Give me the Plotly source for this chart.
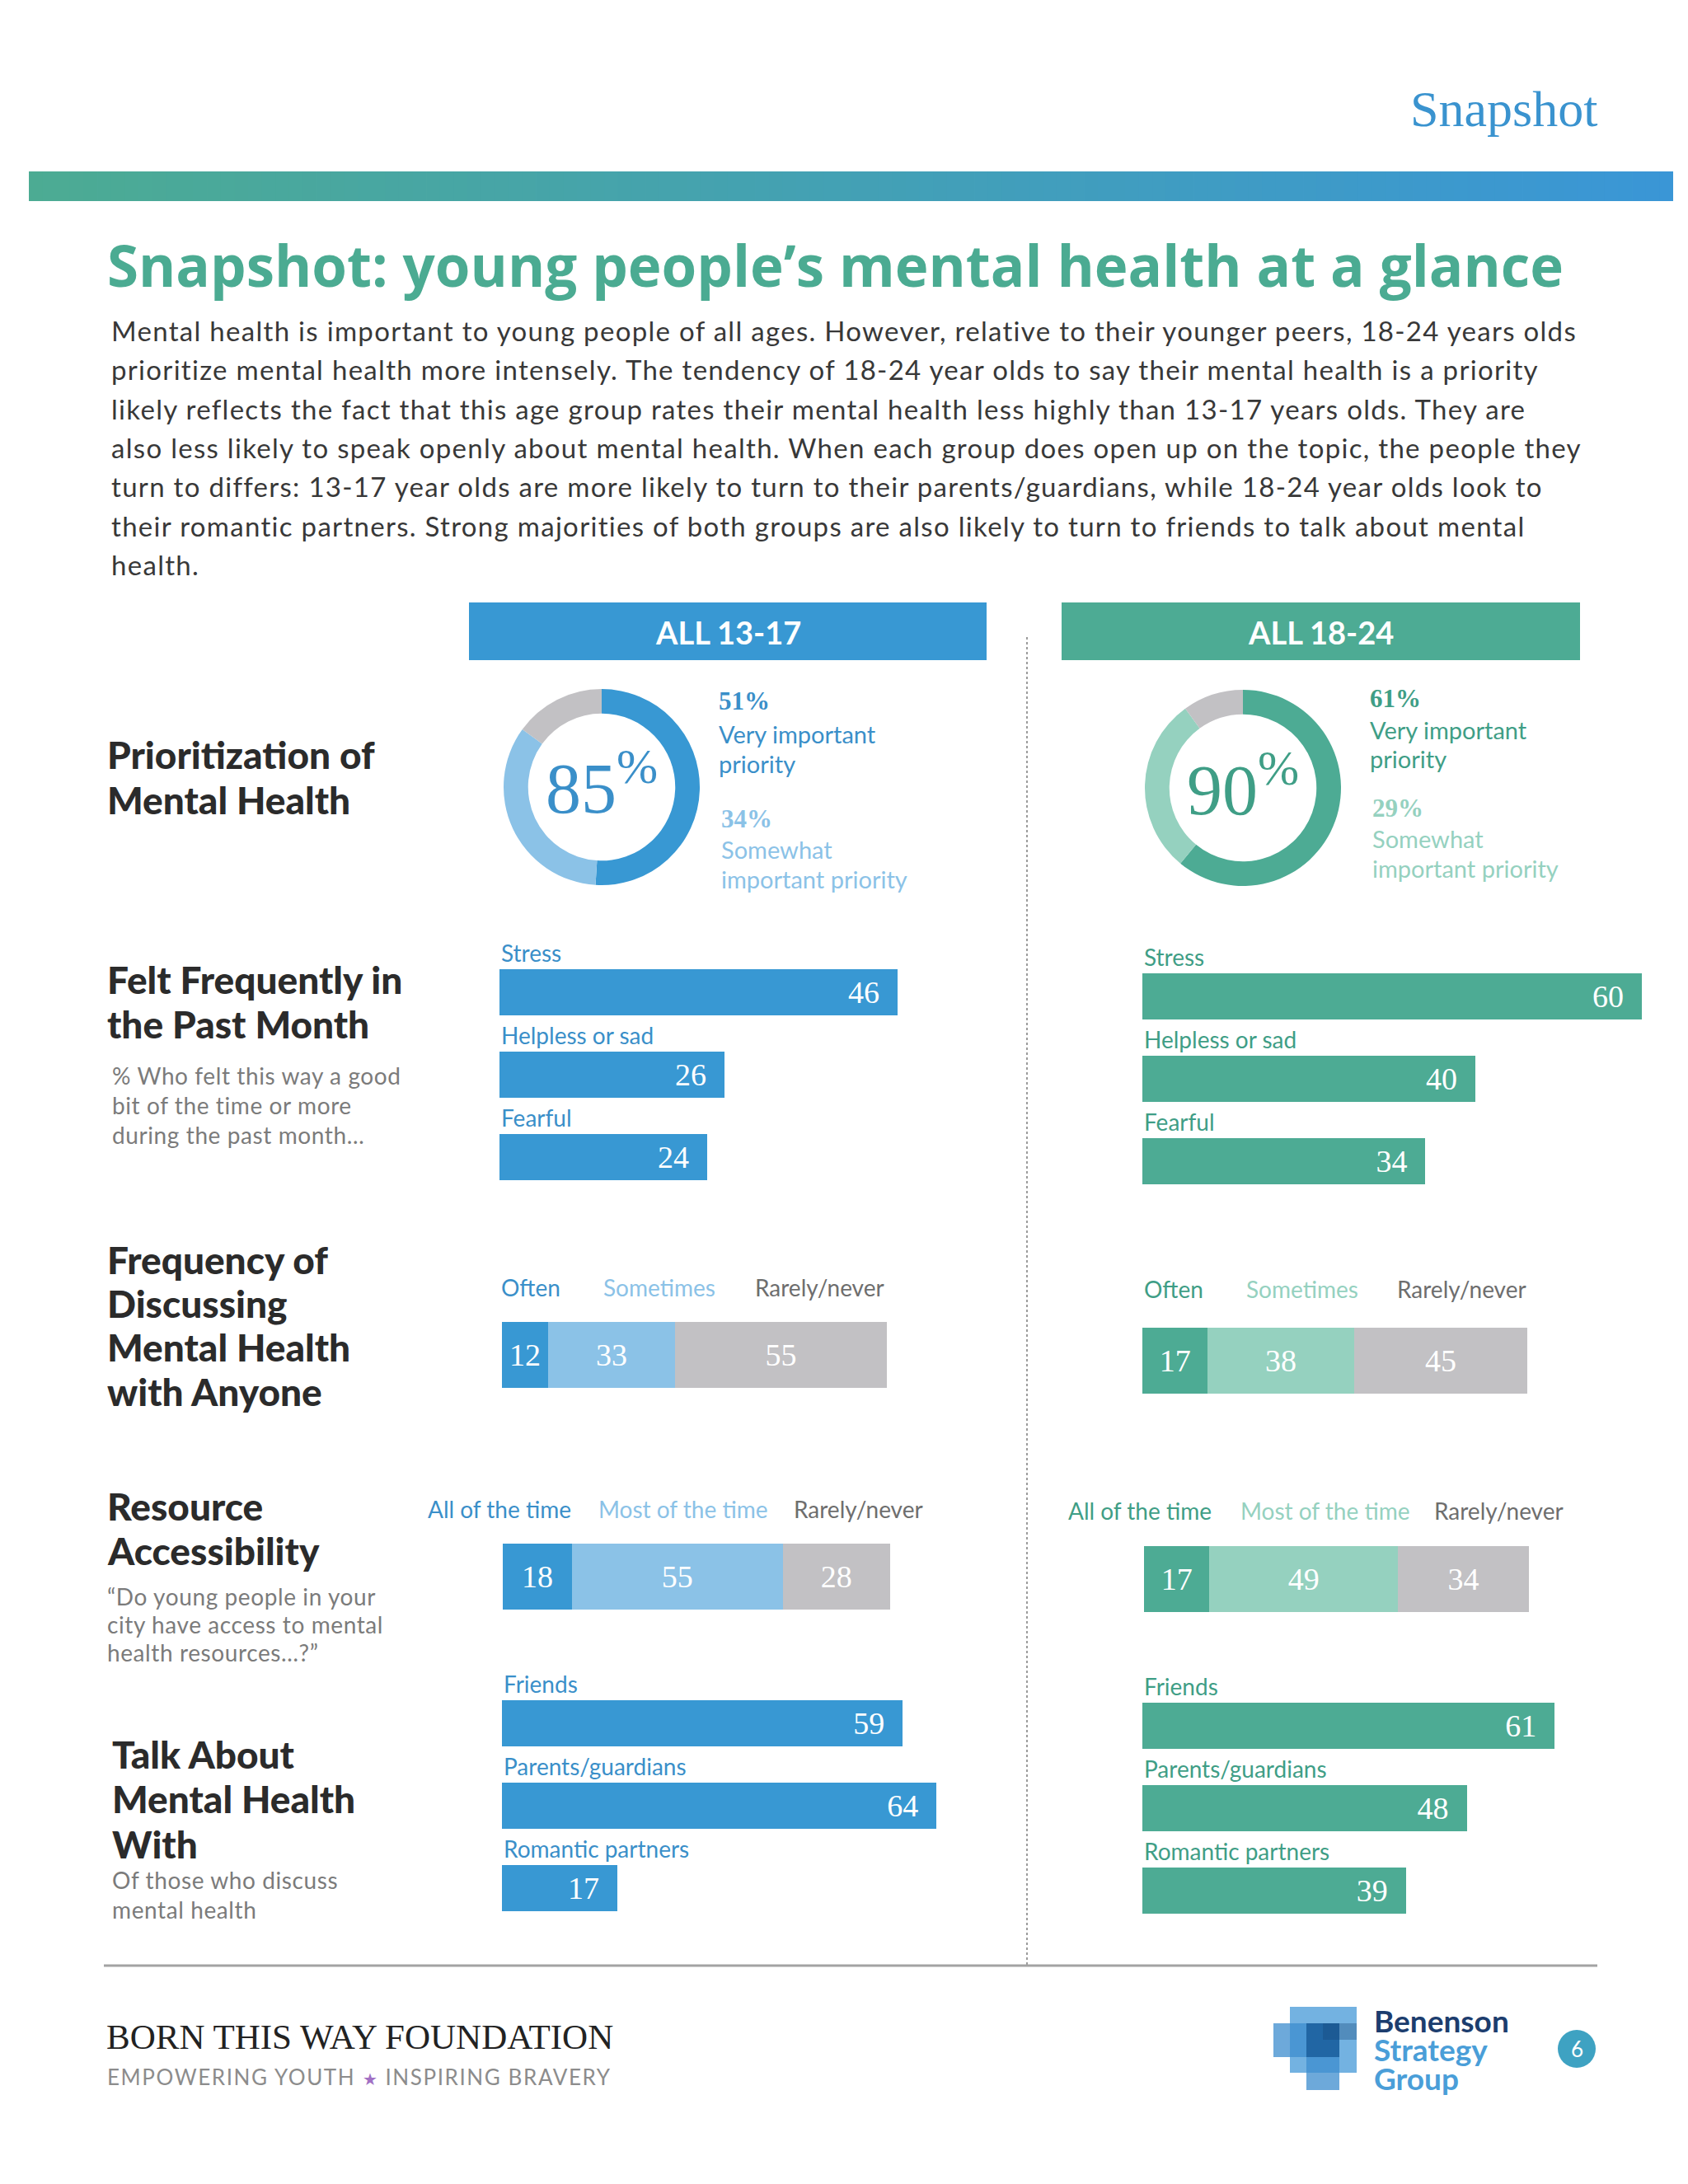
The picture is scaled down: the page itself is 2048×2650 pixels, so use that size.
import plotly.graph_objects as go

W, H = 2048, 2650

# ---------------- data ----------------
groups = ["ALL 13-17", "ALL 18-24"]

priority_labels = ["Very important priority", "Somewhat important priority", "Not a priority"]
priority_13_17 = [51, 34, 15]
priority_18_24 = [61, 29, 10]
priority_total = [85, 90]

felt_categories = ["Stress", "Helpless or sad", "Fearful"]
felt_13_17 = [46, 26, 24]
felt_18_24 = [60, 40, 34]

discuss_categories = ["Often", "Sometimes", "Rarely/never"]
discuss_13_17 = [12, 33, 55]
discuss_18_24 = [17, 38, 45]

access_categories = ["All of the time", "Most of the time", "Rarely/never"]
access_13_17 = [18, 55, 28]
access_18_24 = [17, 49, 34]

talk_categories = ["Friends", "Parents/guardians", "Romantic partners"]
talk_13_17 = [59, 64, 17]
talk_18_24 = [61, 48, 39]

title_text = "Snapshot: young people’s mental health at a glance"
paragraph_lines = [
    "Mental health is important to young people of all ages. However, relative to their younger peers, 18-24 years olds",
    "prioritize mental health more intensely. The tendency of 18-24 year olds to say their mental health is a priority",
    "likely reflects the fact that this age group rates their mental health less highly than 13-17 years olds. They are",
    "also less likely to speak openly about mental health. When each group does open up on the topic, the people they",
    "turn to differs: 13-17 year olds are more likely to turn to their parents/guardians, while 18-24 year olds look to",
    "their romantic partners. Strong majorities of both groups are also likely to turn to friends to talk about mental",
    "health.",
]

# ---------------- styles ----------------
BLUE = "#3898d3"
BLUE_L = "#8bc2e7"
BLUE_T = "#3a8fc9"
TEAL = "#4dab94"
TEAL_L = "#95d1bf"
TEAL_T = "#3f9e86"
GRAY = "#c2c1c4"
GRAY_T = "#6e6e6e"
DARK = "#2b2b2b"
SUB = "#7b7b7b"
SERIF = "Liberation Serif"
SANS = "Lato"

fig = go.Figure()
fig.update_layout(
    width=W, height=H, margin=dict(l=0, r=0, t=0, b=0),
    paper_bgcolor="white", plot_bgcolor="rgba(0,0,0,0)",
    barmode="stack", showlegend=False,
    xaxis=dict(visible=False), yaxis=dict(visible=False),
)


def X(p):
    return p / W


def Y(p):
    return 1 - p / H


def spaced(s, px):
    return f"<span style='letter-spacing:{px}px'>{s}</span>"


def txt(s, x, y, size, color, family=SANS, weight="normal", xanchor="left", yanchor="middle"):
    fig.add_annotation(text=s, x=X(x), y=Y(y), xref="paper", yref="paper",
                       xanchor=xanchor, yanchor=yanchor, showarrow=False,
                       font=dict(family=family, size=size, color=color, weight=weight))


axis_idx = [1]


def make_axes(x0, scale, ytop, ybot, cats, width=640):
    axis_idx[0] += 1
    i = axis_idx[0]
    fig.layout[f"xaxis{i}"] = dict(domain=[X(x0), X(x0 + width)], range=[0, width / scale],
                                   visible=False, fixedrange=True, anchor=f"y{i}")
    fig.layout[f"yaxis{i}"] = dict(domain=[Y(ybot), Y(ytop)], range=[len(cats) - 0.5, -0.5],
                                   type="category", categoryorder="array", categoryarray=cats,
                                   visible=False, fixedrange=True, anchor=f"x{i}")
    return f"x{i}", f"y{i}"


def hbar_panel(values, cats, x0, scale, first_center, color, label_color, bar_h=56):
    ytop = first_center - 50
    ybot = ytop + 100 * len(cats)
    xa, ya = make_axes(x0, scale, ytop, ybot, cats)
    fig.add_trace(go.Bar(
        x=values, y=cats, orientation="h", xaxis=xa, yaxis=ya,
        marker=dict(color=color, line=dict(width=0)), width=bar_h / 100,
        text=values, texttemplate="%{x}\u2002", textposition="inside", insidetextanchor="end",
        textfont=dict(family=SERIF, size=38, color="white"),
        hoverinfo="skip", cliponaxis=False,
    ))
    for c in cats:
        fig.add_annotation(text=c, x=0, y=c, xref=xa, yref=ya, xanchor="left", yanchor="middle",
                           yshift=48, showarrow=False,
                           font=dict(family=SANS, size=28, color=label_color))


def stack_panel(values, cats, x0, center, colors, legend_x, legend_colors, legend_y, bar_h=80):
    total = sum(values)
    width = 467 if total <= 100 else 470
    scale = width / total
    xa, ya = make_axes(x0, scale, center - 50, center + 50, ["all"], width=width)
    for v, c, col in zip(values, cats, colors):
        fig.add_trace(go.Bar(
            x=[v], y=["all"], orientation="h", xaxis=xa, yaxis=ya, name=c,
            marker=dict(color=col, line=dict(width=0)), width=bar_h / 100,
            text=[v], texttemplate="%{x}", textposition="inside", insidetextanchor="middle",
            textfont=dict(family=SERIF, size=38, color="white"),
            hoverinfo="skip", cliponaxis=False,
        ))
    for c, lx, lc in zip(cats, legend_x, legend_colors):
        txt(c, lx, legend_y, 28, lc)


# ---------------- header ----------------
txt("Snapshot", 1932, 124, 62, "#3a93cf", family=SERIF, xanchor="right")

# gradient band
n_slices = 120
x_start, x_end = 27, 2022
c0 = (76, 171, 147)
c1 = (58, 150, 214)
for k in range(n_slices):
    t = k / (n_slices - 1)
    col = "rgb({},{},{})".format(*[round(a + (b - a) * t) for a, b in zip(c0, c1)])
    xa0 = x_start + (x_end - x_start) * k / n_slices
    xa1 = x_start + (x_end - x_start) * (k + 1) / n_slices + 0.8
    fig.add_shape(type="rect", xref="paper", yref="paper", x0=X(xa0), x1=X(min(xa1, x_end)),
                  y0=Y(236), y1=Y(200), fillcolor=col, line=dict(width=0), layer="below")

txt(title_text, 120, 313, 69, "#4bab92", family="Open Sans", weight="bold")
for i, line in enumerate(paragraph_lines):
    txt(spaced(line, 1.3), 125, 393 + i * 47.3, 33, "#383838")

# column headers
fig.add_shape(type="rect", xref="paper", yref="paper", x0=X(561), x1=X(1189), y0=Y(793), y1=Y(723),
              fillcolor=BLUE, line=dict(width=0))
fig.add_shape(type="rect", xref="paper", yref="paper", x0=X(1280), x1=X(1909), y0=Y(793), y1=Y(723),
              fillcolor=TEAL, line=dict(width=0))
txt(groups[0], 875, 759, 38, "white", weight="bold", xanchor="center")
txt(groups[1], 1594, 759, 38, "white", weight="bold", xanchor="center")

# divider + bottom rule
fig.add_shape(type="line", xref="paper", yref="paper", x0=X(1238), x1=X(1238), y0=Y(765), y1=Y(2376),
              line=dict(color="#9c9c9c", width=2, dash="dot"))
fig.add_shape(type="line", xref="paper", yref="paper", x0=X(118), x1=X(1930), y0=Y(2377), y1=Y(2377),
              line=dict(color="#a3a3a3", width=3))

# ---------------- section titles ----------------
TS = 46
TW = 900
txt("Prioritization of", 120, 907, TS, DARK, weight=TW)
txt("Mental Health", 120, 962, TS, DARK, weight=TW)

txt("Felt Frequently in", 120, 1180, TS, DARK, weight=TW)
txt("the Past Month", 120, 1234, TS, DARK, weight=TW)
for i, s in enumerate(["% Who felt this way a good", "bit of the time or more", "during the past month…"]):
    txt(spaced(s, 0.6), 126, 1297 + i * 36, 28, SUB)

for i, s in enumerate(["Frequency of", "Discussing", "Mental Health", "with Anyone"]):
    txt(s, 120, 1520 + i * 53.5, TS, DARK, weight=TW)

txt("Resource", 120, 1819, TS, DARK, weight=TW)
txt("Accessibility", 120, 1873, TS, DARK, weight=TW)
for i, s in enumerate(["“Do young people in your", "city have access to mental", "health resources…?”"]):
    txt(spaced(s, 0.6), 120, 1929 + i * 34, 28, SUB)

for i, s in enumerate(["Talk About", "Mental Health", "With"]):
    txt(s, 126, 2120 + i * 54.5, TS, DARK, weight=TW)
txt(spaced("Of those who discuss", 0.6), 126, 2273, 28, SUB)
txt(spaced("mental health", 0.6), 126, 2309, 28, SUB)

# ---------------- donuts ----------------
def donut(values, total, cx, cy, r, colors, tcol):
    fig.add_trace(go.Pie(
        values=values, labels=priority_labels, hole=0.75, sort=False,
        direction="clockwise", rotation=0, textinfo="none", hoverinfo="skip",
        marker=dict(colors=colors, line=dict(width=0)),
        domain=dict(x=[X(cx - r), X(cx + r)], y=[Y(cy + r), Y(cy - r)]),
        showlegend=False,
    ))
    txt(f"{total}<sup>%</sup>", cx, cy - 4, 86, tcol, family=SERIF, xanchor="center")


donut(priority_13_17, priority_total[0], 722, 947, 119, [BLUE, BLUE_L, GRAY], BLUE_T)
donut(priority_18_24, priority_total[1], 1500, 948, 119, [TEAL, TEAL_L, GRAY], TEAL_T)

# donut side labels
txt(f"{priority_13_17[0]}%", 862, 843, 31, BLUE_T, family=SERIF, weight="bold")
txt("Very important", 862, 882, 29, BLUE_T)
txt("priority", 862, 918, 29, BLUE_T)
txt(f"{priority_13_17[1]}%", 865, 985, 31, BLUE_L, family=SERIF, weight="bold")
txt("Somewhat", 865, 1022, 29, BLUE_L)
txt("important priority", 865, 1058, 29, BLUE_L)

txt(f"{priority_18_24[0]}%", 1652, 840, 31, TEAL_T, family=SERIF, weight="bold")
txt("Very important", 1652, 877, 29, TEAL_T)
txt("priority", 1652, 913, 29, TEAL_T)
txt(f"{priority_18_24[1]}%", 1655, 972, 31, TEAL_L, family=SERIF, weight="bold")
txt("Somewhat", 1655, 1009, 29, TEAL_L)
txt("important priority", 1655, 1045, 29, TEAL_L)

# ---------------- bar panels ----------------
hbar_panel(felt_13_17, felt_categories, 598, 10.5, 1196, BLUE, BLUE_T)
hbar_panel(felt_18_24, felt_categories, 1378, 10.1, 1201, TEAL, TEAL_T)

stack_panel(discuss_13_17, discuss_categories, 601, 1636, [BLUE, BLUE_L, GRAY],
            [598, 722, 906], [BLUE_T, BLUE_L, GRAY_T], 1554)
stack_panel(discuss_18_24, discuss_categories, 1378, 1643, [TEAL, TEAL_L, GRAY],
            [1378, 1502, 1685], [TEAL_T, TEAL_L, GRAY_T], 1556)

stack_panel(access_13_17, access_categories, 602, 1905, [BLUE, BLUE_L, GRAY],
            [509, 716, 953], [BLUE_T, BLUE_L, GRAY_T], 1823)
stack_panel(access_18_24, access_categories, 1380, 1908, [TEAL, TEAL_L, GRAY],
            [1286, 1495, 1730], [TEAL_T, TEAL_L, GRAY_T], 1825)

hbar_panel(talk_13_17, talk_categories, 601, 8.24, 2083, BLUE, BLUE_T)
hbar_panel(talk_18_24, talk_categories, 1378, 8.2, 2086, TEAL, TEAL_T)

# ---------------- footer ----------------
txt("BORN THIS WAY FOUNDATION", 119, 2463, 43, "#222222", family=SERIF)
txt(spaced("EMPOWERING YOUTH <span style='color:#a271c4;font-size:20px'>★</span> INSPIRING BRAVERY", 1.6),
    120, 2512, 26, "#8c8c8c")

# logo blocks
for (ax0, ay0, ax1, ay1, col) in [
    (1557, 2427, 1638, 2507, "rgba(90,165,220,0.85)"),
    (1537, 2447, 1617, 2488, "rgba(60,140,205,0.75)"),
    (1577, 2447, 1617, 2528, "rgba(60,140,205,0.75)"),
    (1577, 2447, 1617, 2488, "rgba(10,70,130,0.55)"),
    (1597, 2447, 1638, 2467, "rgba(20,70,120,0.35)"),
]:
    fig.add_shape(type="rect", xref="paper", yref="paper", x0=X(ax0), x1=X(ax1), y0=Y(ay1), y1=Y(ay0),
                  fillcolor=col, line=dict(width=0))
txt("Benenson", 1657, 2443, 37, "#1c3d6e", weight="bold")
txt("Strategy", 1657, 2478, 37, "#4a9ed8", weight="bold")
txt("Group", 1657, 2513, 37, "#4a9ed8", weight="bold")

fig.add_shape(type="circle", xref="paper", yref="paper", x0=X(1882), x1=X(1928), y0=Y(2501), y1=Y(2455),
              fillcolor="#3ea2c2", line=dict(width=0))
txt("6", 1905, 2478, 26, "white", xanchor="center")

fig.write_html("out.html")
